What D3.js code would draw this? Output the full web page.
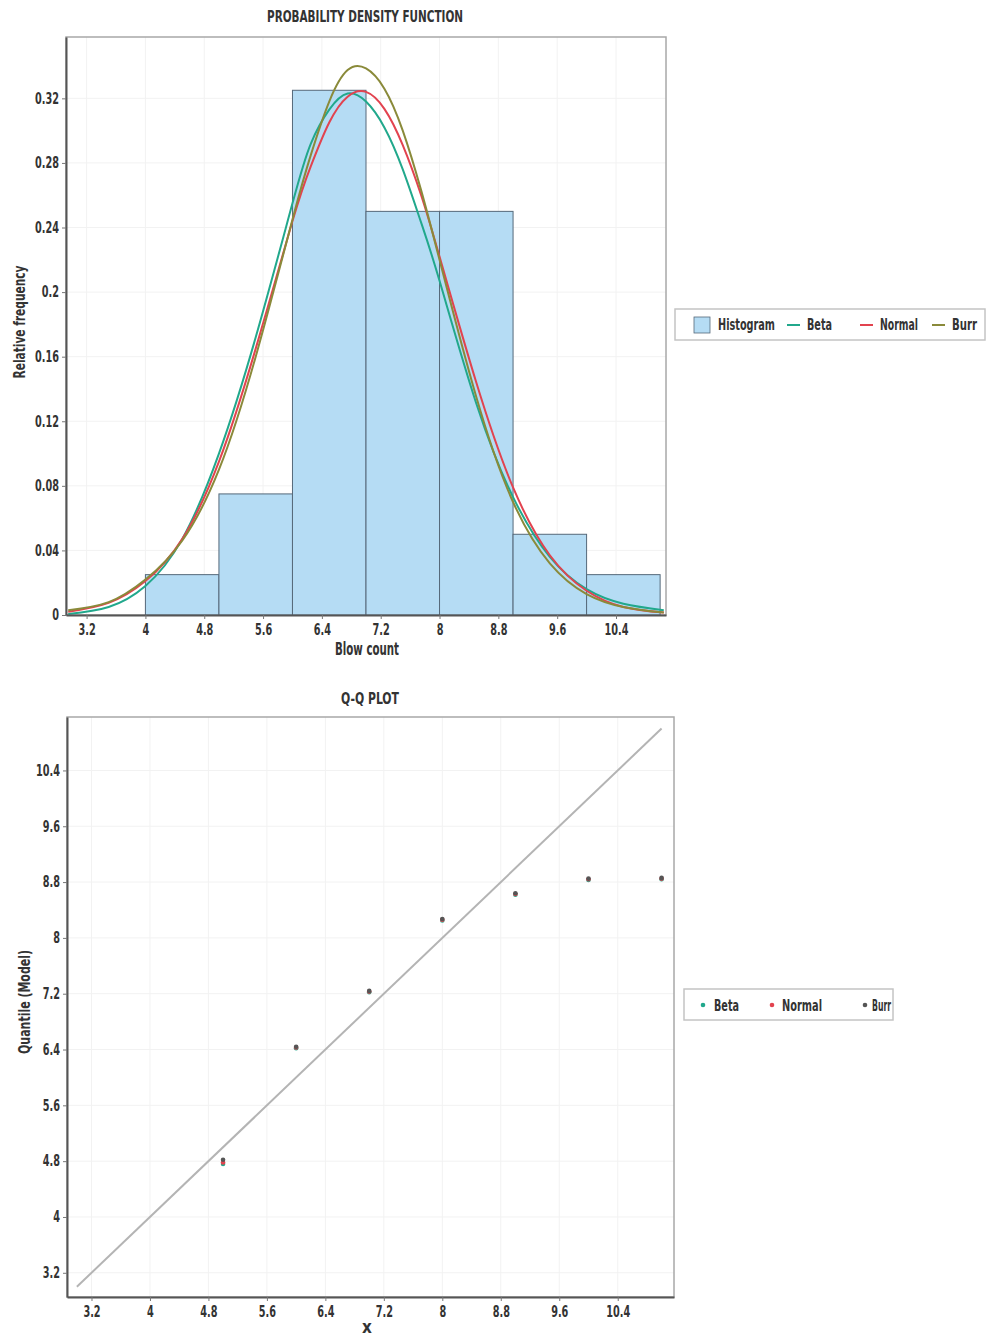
<!DOCTYPE html>
<html>
<head>
<meta charset="utf-8">
<script src="https://cdn.jsdelivr.net/npm/d3@7/dist/d3.min.js"></script>
<style>
  body { margin: 0; background: #fff; }
  svg text { font-family: "DejaVu Sans Condensed", "DejaVu Sans", sans-serif; font-stretch: condensed; font-weight: bold; fill: #333; }
</style>
</head>
<body>
<div id="chart"></div>
<script>
// histogram bins (left edge, right edge) and relative frequency
const binStart = [3, 4, 5, 6, 7, 8, 9, 10];
const binEnd   = [4, 5, 6, 7, 8, 9, 10, 11];
const binFreq  = [0, 0.025, 0.075, 0.325, 0.25, 0.25, 0.05, 0.025];

// fitted density curves
const densityX = [2.95, 3.5, 4, 4.5, 5, 5.5, 6, 6.25, 6.5, 6.75, 7, 7.25, 7.5, 7.75, 8, 8.5, 9, 9.5, 10, 10.5, 11.05];
const betaY    = [0.0006, 0.005, 0.018, 0.047, 0.100, 0.172, 0.255, 0.292, 0.313, 0.323, 0.318, 0.302, 0.276, 0.243, 0.207, 0.131, 0.073, 0.036, 0.016, 0.007, 0.003];
const normalY  = [0.002, 0.0075, 0.021, 0.047, 0.095, 0.165, 0.244, 0.278, 0.305, 0.321, 0.324, 0.3135, 0.291, 0.260, 0.222, 0.144, 0.079, 0.037, 0.015, 0.005, 0.0015];
const burrY    = [0.003, 0.008, 0.022, 0.046, 0.090, 0.160, 0.245, 0.285, 0.318, 0.3375, 0.3385, 0.326, 0.300, 0.263, 0.220, 0.135, 0.070, 0.032, 0.013, 0.005, 0.0015];

const pdfXTicks = [3.2, 4, 4.8, 5.6, 6.4, 7.2, 8, 8.8, 9.6, 10.4];
const pdfYTicks = [0, 0.04, 0.08, 0.12, 0.16, 0.2, 0.24, 0.28, 0.32];

// Q-Q plot points
const qqX      = [5, 6, 7, 8, 9, 10, 11];
const qqBeta   = [4.76, 6.42, 7.22, 8.25, 8.62, 8.83, 8.84];
const qqNormal = [4.78, 6.43, 7.23, 8.26, 8.63, 8.84, 8.85];
const qqBurr   = [4.82, 6.44, 7.24, 8.27, 8.64, 8.85, 8.86];
const qqLine   = [3, 11];
const qqTicks  = [3.2, 4, 4.8, 5.6, 6.4, 7.2, 8, 8.8, 9.6, 10.4];

const colors = { beta: "#21a88c", normal: "#e2434f", burr: "#8a8a3a", hist: "#b5dcf4", histStroke: "#56697a", qqBurr: "#555" };

const svg = d3.select("#chart").append("svg")
    .attr("width", 986)
    .attr("height", 1338);

// the original font is a narrow condensed face, so squeeze the glyphs
function squeeze(sel, k) {
    sel.each(function () {
        const w = this.getComputedTextLength();
        d3.select(this).attr("textLength", w * k).attr("lengthAdjust", "spacingAndGlyphs");
    });
}
function label(g, txt, x, y, size, len, rotate) {
    const t = g.append("text")
        .attr("transform", `translate(${x},${y})` + (rotate ? " rotate(-90)" : ""))
        .attr("text-anchor", "middle").attr("font-size", size).text(txt);
    if (len) t.attr("textLength", len).attr("lengthAdjust", "spacingAndGlyphs");
    return t;
}
function styleAxis(a) {
    a.select(".domain").attr("stroke", "#555").attr("stroke-width", 2);
    a.selectAll(".tick line").attr("stroke", "#777");
    a.selectAll(".tick text").attr("font-size", 15).attr("fill", "#333");
    squeeze(a.selectAll(".tick text"), 0.72);
}

// ---------- PDF chart ----------
const pdf = { left: 66, right: 666, top: 37, bottom: 615 };
const px = d3.scaleLinear().domain([2.92, 11.08]).range([pdf.left, pdf.right]);
const py = d3.scaleLinear().domain([0, 0.358]).range([pdf.bottom, pdf.top]);

const g1 = svg.append("g");

// faint grid
g1.append("g").selectAll("line").data(pdfXTicks).join("line")
    .attr("x1", d => px(d)).attr("x2", d => px(d))
    .attr("y1", pdf.top).attr("y2", pdf.bottom)
    .attr("stroke", "#f2f2f2");
g1.append("g").selectAll("line").data(pdfYTicks).join("line")
    .attr("x1", pdf.left).attr("x2", pdf.right)
    .attr("y1", d => py(d)).attr("y2", d => py(d))
    .attr("stroke", "#f2f2f2");

// frame
g1.append("rect")
    .attr("x", pdf.left).attr("y", pdf.top)
    .attr("width", pdf.right - pdf.left).attr("height", pdf.bottom - pdf.top)
    .attr("fill", "none").attr("stroke", "#a8a8a8").attr("stroke-width", 1.5);

// histogram bars
g1.append("g").selectAll("rect").data(binFreq).join("rect")
    .attr("x", (d, i) => px(binStart[i]))
    .attr("width", (d, i) => px(binEnd[i]) - px(binStart[i]))
    .attr("y", d => py(d))
    .attr("height", d => py(0) - py(d))
    .attr("fill", colors.hist)
    .attr("stroke", colors.histStroke)
    .attr("stroke-width", 1);

// density curves
const line = d3.line().x(d => px(d[0])).y(d => py(d[1])).curve(d3.curveNatural);
[[betaY, colors.beta], [normalY, colors.normal], [burrY, colors.burr]].forEach(([ys, c]) => {
    g1.append("path")
        .datum(densityX.map((x, i) => [x, ys[i]]))
        .attr("d", line)
        .attr("fill", "none")
        .attr("stroke", c)
        .attr("stroke-width", 2);
});

// axes
const xAxis1 = g1.append("g").attr("transform", `translate(0,${pdf.bottom})`)
    .call(d3.axisBottom(px).tickValues(pdfXTicks).tickSize(4).tickSizeOuter(0).tickFormat(d => String(d)));
const yAxis1 = g1.append("g").attr("transform", `translate(${pdf.left},0)`)
    .call(d3.axisLeft(py).tickValues(pdfYTicks).tickSize(4).tickSizeOuter(0).tickFormat(d => String(d)));
xAxis1.selectAll(".tick text").attr("dy", "0.85em");
styleAxis(xAxis1);
styleAxis(yAxis1);

label(g1, "PROBABILITY DENSITY FUNCTION", 365, 22, 15, 196);
label(g1, "Blow count", 367, 655, 17, 64);
label(g1, "Relative frequency", 25, 322, 16, 113, true);

// legend (runs off the right edge in the original)
const leg1 = g1.append("g").attr("transform", "translate(675,309)");
leg1.append("rect").attr("width", 310).attr("height", 31)
    .attr("fill", "#fff").attr("stroke", "#c4c4c4").attr("stroke-width", 1.5);
leg1.append("rect").attr("x", 19).attr("y", 8).attr("width", 16).attr("height", 16)
    .attr("fill", colors.hist).attr("stroke", colors.histStroke).attr("stroke-width", 0.8);
leg1.append("text").attr("x", 43).attr("y", 21).attr("font-size", 15)
    .attr("textLength", 57).attr("lengthAdjust", "spacingAndGlyphs").text("Histogram");
const legItems1 = [["Beta", colors.beta, 112, 25], ["Normal", colors.normal, 185, 38], ["Burr", colors.burr, 257, 25]];
legItems1.forEach(([name, c, x, len]) => {
    leg1.append("line").attr("x1", x).attr("x2", x + 13).attr("y1", 16).attr("y2", 16)
        .attr("stroke", c).attr("stroke-width", 2);
    leg1.append("text").attr("x", x + 20).attr("y", 21).attr("font-size", 15)
        .attr("textLength", len).attr("lengthAdjust", "spacingAndGlyphs").text(name);
});

// ---------- Q-Q plot ----------
const qq = { left: 67, right: 674, top: 717, bottom: 1297 };
const qx = d3.scaleLinear().domain([2.865, 11.17]).range([qq.left, qq.right]);
const qy = d3.scaleLinear().domain([2.853, 11.166]).range([qq.bottom, qq.top]);

const g2 = svg.append("g");

g2.append("g").selectAll("line").data(qqTicks).join("line")
    .attr("x1", d => qx(d)).attr("x2", d => qx(d))
    .attr("y1", qq.top).attr("y2", qq.bottom)
    .attr("stroke", "#f2f2f2");
g2.append("g").selectAll("line").data(qqTicks).join("line")
    .attr("x1", qq.left).attr("x2", qq.right)
    .attr("y1", d => qy(d)).attr("y2", d => qy(d))
    .attr("stroke", "#f2f2f2");

g2.append("rect")
    .attr("x", qq.left).attr("y", qq.top)
    .attr("width", qq.right - qq.left).attr("height", qq.bottom - qq.top)
    .attr("fill", "none").attr("stroke", "#a8a8a8").attr("stroke-width", 1.5);

// reference line
g2.append("line")
    .attr("x1", qx(qqLine[0])).attr("y1", qy(qqLine[0]))
    .attr("x2", qx(qqLine[1])).attr("y2", qy(qqLine[1]))
    .attr("stroke", "#b4b4b4").attr("stroke-width", 2);

[[qqBeta, colors.beta], [qqNormal, colors.normal], [qqBurr, colors.qqBurr]].forEach(([ys, c]) => {
    g2.append("g").selectAll("circle").data(ys).join("circle")
        .attr("cx", (d, i) => qx(qqX[i]))
        .attr("cy", d => qy(d))
        .attr("r", 2.3)
        .attr("fill", c);
});

const xAxis2 = g2.append("g").attr("transform", `translate(0,${qq.bottom})`)
    .call(d3.axisBottom(qx).tickValues(qqTicks).tickSize(4).tickSizeOuter(0).tickFormat(d => String(d)));
const yAxis2 = g2.append("g").attr("transform", `translate(${qq.left},0)`)
    .call(d3.axisLeft(qy).tickValues(qqTicks).tickSize(4).tickSizeOuter(0).tickFormat(d => String(d)));
xAxis2.selectAll(".tick text").attr("dy", "0.85em");
styleAxis(xAxis2);
styleAxis(yAxis2);

label(g2, "Q-Q PLOT", 370, 704, 15, 58);
label(g2, "x", 367, 1333, 17);
label(g2, "Quantile (Model)", 30, 1002, 16, 104, true);

const leg2 = g2.append("g").attr("transform", "translate(684,989)");
leg2.append("rect").attr("width", 209).attr("height", 31)
    .attr("fill", "#fff").attr("stroke", "#c4c4c4").attr("stroke-width", 1.5);
const legItems2 = [["Beta", colors.beta, 19, 25, 11], ["Normal", colors.normal, 88, 40, 10], ["Burr", colors.qqBurr, 181, 19, 7]];
legItems2.forEach(([name, c, x, len, gap]) => {
    leg2.append("circle").attr("cx", x).attr("cy", 16).attr("r", 2.3).attr("fill", c);
    leg2.append("text").attr("x", x + gap).attr("y", 22).attr("font-size", 15)
        .attr("textLength", len).attr("lengthAdjust", "spacingAndGlyphs").text(name);
});
</script>
</body>
</html>
